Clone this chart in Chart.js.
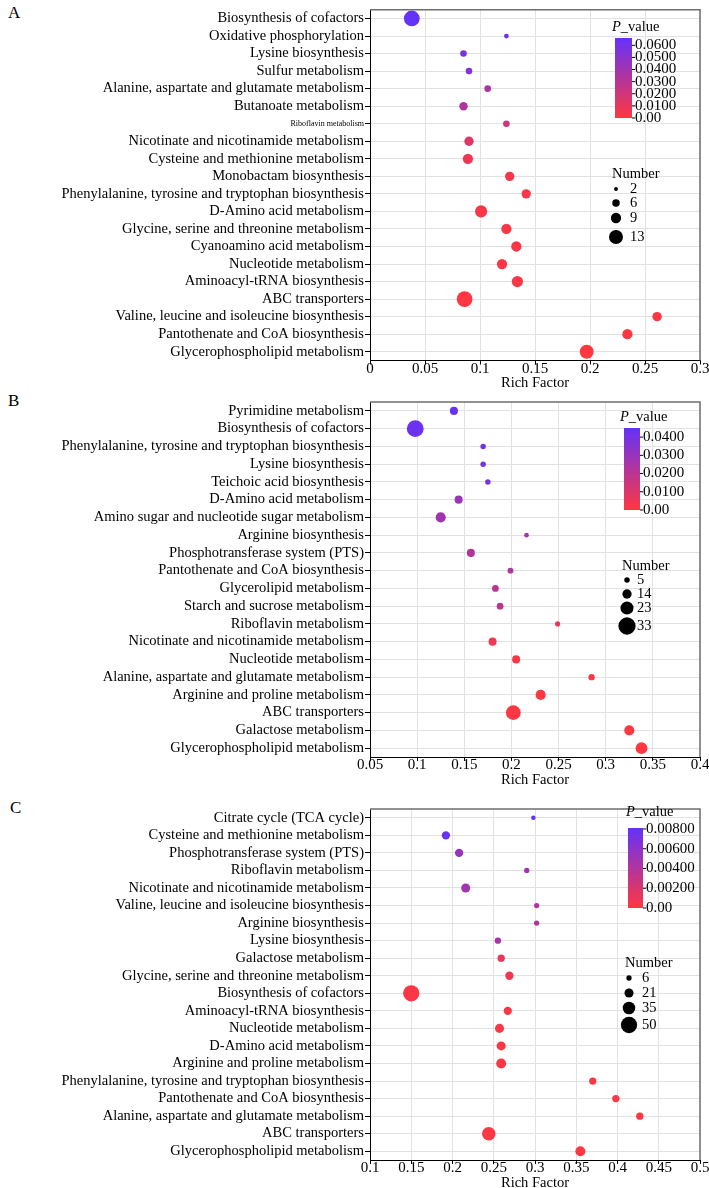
<!DOCTYPE html>
<html><head><meta charset="utf-8">
<script src="https://cdn.jsdelivr.net/npm/chart.js@4.4.1/dist/chart.umd.min.js"></script>
<style>
body{margin:0;background:#fff;width:709px;height:1188px;overflow:hidden;position:relative;font-family:'Liberation Serif','Times New Roman',serif}
canvas{position:absolute;left:0}
.lab{position:absolute;font-size:17px;color:#000;line-height:1}
</style></head><body>
<div class="lab" style="left:8px;top:4px">A</div>
<div class="lab" style="left:8px;top:392px">B</div>
<div class="lab" style="left:10px;top:799px">C</div>
<canvas id="cA" width="709" height="392" style="top:0px"></canvas>
<canvas id="cB" width="709" height="397" style="top:392px"></canvas>
<canvas id="cC" width="709" height="403" style="top:789px"></canvas>
<script>
// ---------- Panel A data ----------
const catsA = ['Biosynthesis of cofactors','Oxidative phosphorylation','Lysine biosynthesis','Sulfur metabolism','Alanine, aspartate and glutamate metabolism','Butanoate metabolism','Riboflavin metabolism','Nicotinate and nicotinamide metabolism','Cysteine and methionine metabolism','Monobactam biosynthesis','Phenylalanine, tyrosine and tryptophan biosynthesis','D-Amino acid metabolism','Glycine, serine and threonine metabolism','Cyanoamino acid metabolism','Nucleotide metabolism','Aminoacyl-tRNA biosynthesis','ABC transporters','Valine, leucine and isoleucine biosynthesis','Pantothenate and CoA biosynthesis','Glycerophospholipid metabolism'];
const richA = [0.038,0.124,0.085,0.090,0.107,0.085,0.124,0.090,0.089,0.127,0.142,0.101,0.124,0.133,0.120,0.134,0.086,0.261,0.234,0.197];
const countA = [15,3,5,5,5,7,5,8,9,8,8,11,9,9,9,10,15,8,9,13];
const pA = [0.066,0.062,0.058,0.053,0.036,0.033,0.020,0.013,0.007,0.004,0.003,0.003,0.002,0.002,0.002,0.001,0.0005,0.0005,0.0003,0.0001];
const xTicksA = ['0','0.05','0.1','0.15','0.2','0.25','0.3'];
const pTicksA = ['0.0600','0.0500','0.0400','0.0300','0.0200','0.0100','0.00'];
const pTickValsA = [0.06,0.05,0.04,0.03,0.02,0.01,0];
const sizeLegA = [2,6,9,13];

// ---------- Panel B data ----------
const catsB = ['Pyrimidine metabolism','Biosynthesis of cofactors','Phenylalanine, tyrosine and tryptophan biosynthesis','Lysine biosynthesis','Teichoic acid biosynthesis','D-Amino acid metabolism','Amino sugar and nucleotide sugar metabolism','Arginine biosynthesis','Phosphotransferase system (PTS)','Pantothenate and CoA biosynthesis','Glycerolipid metabolism','Starch and sucrose metabolism','Riboflavin metabolism','Nicotinate and nicotinamide metabolism','Nucleotide metabolism','Alanine, aspartate and glutamate metabolism','Arginine and proline metabolism','ABC transporters','Galactose metabolism','Glycerophospholipid metabolism'];
const richB = [0.139,0.098,0.170,0.170,0.175,0.144,0.125,0.216,0.157,0.199,0.183,0.188,0.249,0.180,0.205,0.285,0.231,0.202,0.325,0.338];
const countB = [11,32,5,5,5,11,16,3,11,6,8,8,4,11,11,7,16,27,16,20];
const pB = [0.044,0.043,0.041,0.040,0.039,0.029,0.027,0.025,0.0225,0.0225,0.020,0.019,0.0055,0.0045,0.001,0.0005,0.0004,0.0002,0.0002,0.0001];
const xTicksB = ['0.05','0.1','0.15','0.2','0.25','0.3','0.35','0.4'];
const pTicksB = ['0.0400','0.0300','0.0200','0.0100','0.00'];
const pTickValsB = [0.04,0.03,0.02,0.01,0];
const sizeLegB = [5,14,23,33];

// ---------- Panel C data ----------
const catsC = ['Citrate cycle (TCA cycle)','Cysteine and methionine metabolism','Phosphotransferase system (PTS)','Riboflavin metabolism','Nicotinate and nicotinamide metabolism','Valine, leucine and isoleucine biosynthesis','Arginine biosynthesis','Lysine biosynthesis','Galactose metabolism','Glycine, serine and threonine metabolism','Biosynthesis of cofactors','Aminoacyl-tRNA biosynthesis','Nucleotide metabolism','D-Amino acid metabolism','Arginine and proline metabolism','Phenylalanine, tyrosine and tryptophan biosynthesis','Pantothenate and CoA biosynthesis','Alanine, aspartate and glutamate metabolism','ABC transporters','Glycerophospholipid metabolism'];
const richC = [0.298,0.192,0.208,0.290,0.216,0.302,0.302,0.255,0.259,0.269,0.150,0.267,0.257,0.259,0.259,0.370,0.398,0.427,0.244,0.355];
const countC = [3,18,18,6,21,6,6,10,14,18,50,18,21,21,25,14,14,14,39,25];
const pC = [0.0080,0.0078,0.0055,0.0050,0.0048,0.0042,0.0040,0.0045,0.0012,0.0008,0.0002,0.0002,0.0002,0.0001,0.0001,0.0001,0.0001,0.0001,0.0001,0.0001];
const xTicksC = ['0.1','0.15','0.2','0.25','0.3','0.35','0.4','0.45','0.5'];
const pTicksC = ['0.00800','0.00600','0.00400','0.00200','0.00'];
const pTickValsC = [0.008,0.006,0.004,0.002,0];
const sizeLegC = [6,21,35,50];

// ---------- helpers ----------
const FONT = "'Liberation Serif','Times New Roman',serif";
const LOW = [255,55,65], HIGH = [100,50,250];
function col(t){ t=Math.max(0,Math.min(1,t)); const c=LOW.map((v,i)=>Math.round(v+(HIGH[i]-v)*t)); return `rgb(${c[0]},${c[1]},${c[2]})`; }

function deco(cfg){
  return {
    id:'deco',
    afterDraw(chart){
      const {ctx, chartArea:a} = chart; const T = cfg.top;
      ctx.save();
      ctx.strokeStyle='#6f6f6f'; ctx.lineWidth=1.5;
      ctx.beginPath(); ctx.moveTo(a.left,a.top); ctx.lineTo(a.right,a.top); ctx.lineTo(a.right,a.bottom); ctx.stroke();
      // colour bar
      const cb = cfg.cbar;
      const g = ctx.createLinearGradient(0,cb.y0-T,0,cb.y1-T);
      g.addColorStop(0,col(1)); g.addColorStop(1,col(0));
      ctx.fillStyle=g; ctx.fillRect(cb.x0,cb.y0-T,cb.x1-cb.x0,cb.y1-cb.y0);
      ctx.fillStyle='#000'; ctx.strokeStyle='#000'; ctx.lineWidth=1;
      ctx.font='15px '+FONT; ctx.textBaseline='middle'; ctx.textAlign='left';
      cfg.pTicks.forEach((s,i)=>{
        const y = cb.y1 - cfg.pTickVals[i]/cfg.pmax*(cb.y1-cb.y0) - T;
        ctx.beginPath(); ctx.moveTo(cb.x1,y); ctx.lineTo(cb.x1+3,y); ctx.stroke();
        ctx.fillText(s, cb.x1+3, y);
      });
      ctx.font='italic 14.5px '+FONT;
      ctx.fillText('P', cfg.ptitle.x, cfg.ptitle.y-T);
      const w = ctx.measureText('P').width;
      ctx.font='14.5px '+FONT;
      ctx.fillText('_value', cfg.ptitle.x+w, cfg.ptitle.y-T);
      // size legend
      const n = cfg.nleg;
      ctx.fillText('Number', n.tx, n.ty-T);
      cfg.sizes.forEach((v,i)=>{
        ctx.beginPath(); ctx.arc(n.dx, n.ys[i]-T, cfg.rad(v), 0, Math.PI*2); ctx.fill();
        ctx.fillText(String(v), n.lx, n.ys[i]-T);
      });
      ctx.restore();
    }
  };
}

function make(id, cats, rich, count, pv, cfg){
  const data = cats.map((c,i)=>({x:rich[i], y:c}));
  return new Chart(document.getElementById(id), {
    type:'scatter',
    data:{datasets:[{data,
      pointRadius: count.map(cfg.rad),
      pointHoverRadius: count.map(cfg.rad),
      backgroundColor: pv.map(p=>col(p/cfg.pmax)),
      borderWidth:0}]},
    options:{
      responsive:false, animation:false, events:[],
      layout:{autoPadding:false, padding:{top:cfg.pt,left:0,right:9,bottom:0}},
      plugins:{legend:{display:false}, tooltip:{enabled:false}},
      scales:{
        x:{type:'linear', min:cfg.xmin, max:cfg.xmax,
          ticks:{stepSize:0.05, color:'#000', font:{family:FONT,size:15,lineHeight:1}, padding:cfg.tpad,
            autoSkip:false, maxRotation:0, callback:(v,i)=>cfg.xTicks[i]},
          grid:{color:'#e2e2e2', tickColor:'#000', tickLength:4},
          border:{color:'#000', width:1},
          title:{display:true, text:'Rich Factor', color:'#000', font:{family:FONT,size:14.5,lineHeight:1.2}, padding:{top:0,bottom:0}},
          afterFit:(s)=>{s.height=cfg.xh;}
        },
        y:{type:'category', labels:cats, offset:true,
          ticks:{color:'#000', autoSkip:false, padding:1,
            font:(ctx)=>({family:FONT, size:(cfg.small===ctx.index)?8:14.5})},
          grid:{color:'#e2e2e2', tickColor:'#000', tickLength:5},
          border:{color:'#000', width:1},
          afterFit:(s)=>{s.width=370;}
        }
      }
    },
    plugins:[deco(cfg)]
  });
}

make('cA', catsA, richA, countA, pA, {
  top:0, pt:5.5, xh:31.5, xmin:0, xmax:0.3, xTicks:xTicksA, tpad:-3, small:6,
  rad:n=>1.0+0.46*n, pmax:0.066,
  cbar:{x0:615,x1:632,y0:38,y1:118}, pTicks:pTicksA, pTickVals:pTickValsA,
  ptitle:{x:612,y:27}, sizes:sizeLegA,
  nleg:{tx:612,ty:174,dx:616,lx:630,ys:[189,203,218,237]}
});
make('cB', catsB, richB, countB, pB, {
  top:392, pt:10, xh:32, xmin:0.05, xmax:0.4, xTicks:xTicksB, tpad:-3,
  rad:n=>1.7+0.21*n, pmax:0.045,
  cbar:{x0:624,x1:640,y0:428,y1:510}, pTicks:pTicksB, pTickVals:pTickValsB,
  ptitle:{x:620,y:417}, sizes:sizeLegB,
  nleg:{tx:622,ty:566,dx:627,lx:637,ys:[580,594,608,626]}
});
make('cC', catsC, richC, countC, pC, {
  top:789, pt:20, xh:32, xmin:0.1, xmax:0.5, xTicks:xTicksC, tpad:-3,
  rad:n=>1.9+0.125*n, pmax:0.0081,
  cbar:{x0:628,x1:643,y0:828,y1:908}, pTicks:pTicksC, pTickVals:pTickValsC,
  ptitle:{x:626,y:812}, sizes:sizeLegC,
  nleg:{tx:625,ty:963,dx:629,lx:642,ys:[978,993,1008,1025]}
});
</script>
</body></html>
